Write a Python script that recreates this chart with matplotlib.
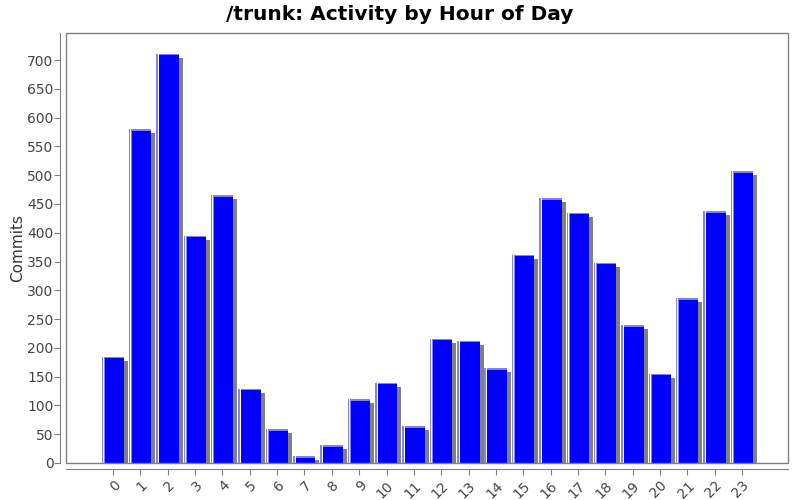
import matplotlib
matplotlib.use("Agg")
import matplotlib.pyplot as plt
from matplotlib.patches import Rectangle

hours = [str(h) for h in range(24)]
commits = [185, 580, 711, 395, 465, 129, 59, 12, 31, 111, 139, 64,
           216, 212, 165, 362, 460, 435, 348, 239, 155, 286, 437, 507]
yticks = list(range(0, 701, 50))

fig = plt.figure(figsize=(8, 5), dpi=100)
ax = fig.add_axes([66/800, 37/500, 722/800, 430/500])

x = list(range(len(hours)))
w = 0.80
px = 1/27.35
pyu = 1/0.5743

# shadows
ax.bar([i + 4*px for i in x], [v - 4*pyu for v in commits], width=w, color="#808080",
       edgecolor="none", zorder=1)
# main bars
ax.bar(x, commits, width=w, color="#0000ff", edgecolor="none", zorder=2)
# highlights
ax.bar([i - w/2 + 1*px for i in x], commits, width=3*px, color="#8080ff", edgecolor="none", zorder=3)
ax.bar([i - w/2 + 1.5*px for i in x], commits, width=1*px, color="#ffffff", edgecolor="none", zorder=4)
ax.bar(x, [1.5*pyu]*len(x), width=w, bottom=[v - 1.5*pyu for v in commits],
       color="#8080ff", edgecolor="none", zorder=3)

ax.set_xlim(-1.72, 24.68)
ax.set_ylim(0, 747)
ax.set_xticks(x)
ax.set_xticklabels(hours, fontsize=9.5)
ax.set_yticks(yticks)
ax.set_yticklabels([str(t) for t in yticks], fontsize=9.5)

for s in ["top", "right"]:
    ax.spines[s].set_visible(False)
for s in ["left", "bottom"]:
    ax.spines[s].set_position(("outward", 4))
    ax.spines[s].set_color("#808080")
ax.add_patch(Rectangle((0, 0), 1, 1, transform=ax.transAxes, fill=False,
                       edgecolor="#808080", linewidth=1, zorder=5, clip_on=False))
ax.tick_params(axis="both", colors="#808080", length=4, labelcolor="#444444")
ax.tick_params(axis="y", pad=1)
ax.tick_params(axis="x", pad=3)
for lab in ax.get_xticklabels():
    lab.set_rotation(45)
    lab.set_ha("right")
    lab.set_va("top")
    lab.set_rotation_mode("anchor")

ax.set_ylabel("Commits", fontsize=11, color="#333333")
ax.yaxis.set_label_coords(-0.056, 0.5)
fig.suptitle("/trunk: Activity by Hour of Day", fontsize=14.5, fontweight="bold", y=0.99)

fig.savefig("out.png", dpi=100)
